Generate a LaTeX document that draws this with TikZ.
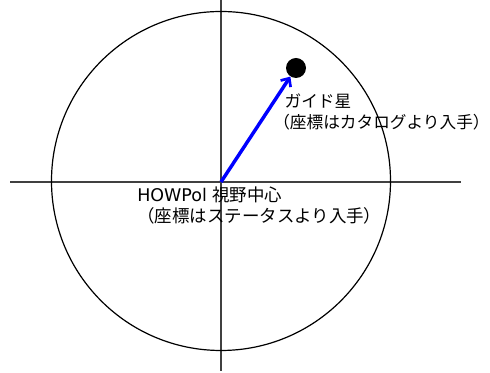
\documentclass[tikz,border=0pt]{standalone}
\usepackage{fontspec}
\setmainfont{DejaVu Sans}
\newfontfamily\jp{Noto Sans CJK JP}
\usepackage{tikz}
\usetikzlibrary{arrows.meta}

\begin{document}
\begin{tikzpicture}[
  x=0.75pt, y=-0.75pt,
  axis/.style={line width=0.9pt, black!75},
  field/.style={line width=0.9pt, black},
  star/.style={circle, fill=black, inner sep=0pt, minimum size=15pt},
  vec/.style={-{Straight Barb[length=5pt,width=9pt,line width=2pt]}, line width=2.6pt, blue},
  label/.style={align=left, inner sep=0pt, anchor=base west},
]
  \useasboundingbox (0,0) rectangle (490,373);

  % axes and field of view
  \draw[axis] (10,182) -- (461,182);
  \draw[axis] (221,0) -- (221,371);
  \draw[field] (221,181) circle (169.5);

  % centre and guide star
  \coordinate (fov) at (221,182);
  \node[star] (guide) at (296,68) {};
  \draw[vec] (fov) -- (guide);

  % labels (base = last line)
  \node[label, font=\fontsize{12.5}{15.75}\selectfont] (guidetext) at (273,129)
    {\hspace{8.5pt}{\jp ガイド星}\\{\jp （座標はカタログより入手）}};
  \node[label, font=\fontsize{13.1}{15.75}\selectfont] (fovtext) at (137,223)
    {HOWPol {\jp 視野中心}\\{\jp （座標はステータスより入手）}};

\end{tikzpicture}
\end{document}
